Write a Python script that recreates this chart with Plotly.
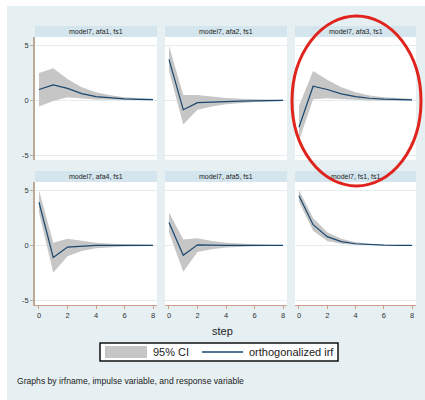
import plotly.graph_objects as go

W, H = 425, 400

steps = [0, 1, 2, 3, 4, 5, 6, 7, 8]
panel_titles = ["model7, afa1, fs1", "model7, afa2, fs1", "model7, afa3, fs1",
                "model7, afa4, fs1", "model7, afa5, fs1", "model7, fs1, fs1"]

irf_afa1 = [1.0, 1.42, 1.1, 0.62, 0.35, 0.22, 0.14, 0.1, 0.08]
hi_afa1 = [2.5, 2.95, 1.95, 1.2, 0.75, 0.48, 0.3, 0.2, 0.15]
lo_afa1 = [-0.55, -0.05, 0.28, 0.15, 0.08, 0.05, 0.03, 0.02, 0.02]

irf_afa2 = [3.75, -0.85, -0.2, -0.14, -0.1, -0.06, -0.04, -0.02, 0.0]
hi_afa2 = [5.0, 0.5, 0.5, 0.35, 0.22, 0.15, 0.1, 0.07, 0.05]
lo_afa2 = [2.7, -2.2, -0.85, -0.55, -0.35, -0.22, -0.14, -0.09, -0.06]

irf_afa3 = [-2.45, 1.3, 1.0, 0.6, 0.35, 0.2, 0.12, 0.08, 0.05]
hi_afa3 = [-0.5, 2.7, 1.9, 1.2, 0.75, 0.45, 0.3, 0.2, 0.15]
lo_afa3 = [-3.7, 0.1, 0.2, 0.1, 0.05, 0.0, 0.0, -0.02, -0.02]

irf_afa4 = [3.95, -1.1, -0.15, -0.05, 0.0, 0.0, 0.0, 0.0, 0.0]
hi_afa4 = [5.05, 0.25, 0.6, 0.4, 0.25, 0.15, 0.1, 0.07, 0.05]
lo_afa4 = [3.0, -2.5, -1.0, -0.5, -0.25, -0.15, -0.1, -0.07, -0.05]

irf_afa5 = [2.1, -0.9, 0.05, 0.0, 0.0, 0.0, 0.0, 0.0, 0.0]
hi_afa5 = [3.0, 0.55, 0.65, 0.4, 0.25, 0.15, 0.1, 0.06, 0.04]
lo_afa5 = [1.2, -2.4, -0.6, -0.35, -0.2, -0.12, -0.08, -0.05, -0.03]

irf_fs1 = [4.55, 1.9, 0.8, 0.35, 0.15, 0.07, 0.03, 0.01, 0.0]
hi_fs1 = [5.05, 2.5, 1.2, 0.6, 0.3, 0.15, 0.07, 0.03, 0.02]
lo_fs1 = [4.0, 1.35, 0.4, 0.15, 0.05, 0.02, 0.0, 0.0, -0.01]

x_ticks = [0, 2, 4, 6, 8]
y_ticks = [-5, 0, 5]

panels = [(irf_afa1, lo_afa1, hi_afa1), (irf_afa2, lo_afa2, hi_afa2),
          (irf_afa3, lo_afa3, hi_afa3), (irf_afa4, lo_afa4, hi_afa4),
          (irf_afa5, lo_afa5, hi_afa5), (irf_fs1, lo_fs1, hi_fs1)]

BG = "#e6f0f3"
STRIP = "#d4e5ee"
CI = "#c6c6c6"
LINE = "#1a476f"
YAX = "#bda997"
XAX = "#cf9d8c"
FONT = "Liberation Sans"

col_px = [(35, 157), (165, 287), (295, 416)]
row_px = [(37, 160), (182, 305)]
strip_h = 11

def px_x(v):
    return v / W

def px_y(v):
    return 1 - v / H

fig = go.Figure()
layout = {}
shapes = []
annotations = []

for i, (irf, lo, hi) in enumerate(panels):
    r, c = divmod(i, 3)
    n = i + 1
    xa = "x" if n == 1 else f"x{n}"
    ya = "y" if n == 1 else f"y{n}"
    fig.add_trace(go.Scatter(x=steps, y=hi, xaxis=xa, yaxis=ya, mode="lines",
                             line=dict(width=0, color=CI), showlegend=False, hoverinfo="skip"))
    fig.add_trace(go.Scatter(x=steps, y=lo, xaxis=xa, yaxis=ya, mode="lines",
                             line=dict(width=0, color=CI), fill="tonexty", fillcolor=CI,
                             showlegend=False, hoverinfo="skip"))
    fig.add_trace(go.Scatter(x=steps, y=irf, xaxis=xa, yaxis=ya, mode="lines",
                             line=dict(width=1.2, color=LINE), showlegend=False))
    x0, x1 = col_px[c]
    y0, y1 = row_px[r]
    bottom = (r == 1)
    left = (c == 0)
    layout["xaxis" if n == 1 else f"xaxis{n}"] = dict(
        domain=[px_x(x0), px_x(x1)], range=[-0.28, 8.28], anchor=ya,
        tickvals=x_ticks, showticklabels=bottom, ticks="outside" if bottom else "",
        ticklen=3, tickcolor=XAX, showline=bottom, linecolor=XAX, linewidth=1,
        showgrid=False, zeroline=False, fixedrange=True,
        tickfont=dict(family=FONT, size=7.5, color="#333333"))
    layout["yaxis" if n == 1 else f"yaxis{n}"] = dict(
        domain=[px_y(y1), px_y(y0)], range=[-5.45, 5.8], anchor=xa,
        tickvals=y_ticks, ticktext=["-5", "0", "5"], showticklabels=left,
        ticks="outside" if left else "", ticklen=3, tickcolor=YAX,
        showline=left, linecolor=YAX, linewidth=1.5,
        showgrid=True, gridcolor="#e4eef2", gridwidth=1, zeroline=False, fixedrange=True,
        tickfont=dict(family=FONT, size=7.5, color="#333333"))
    shapes.append(dict(type="rect", xref="paper", yref="paper",
                       x0=px_x(x0), x1=px_x(x1), y0=px_y(y0), y1=px_y(y0 - strip_h),
                       fillcolor=STRIP, line=dict(width=0), layer="below"))
    annotations.append(dict(xref="paper", yref="paper", x=px_x((x0 + x1) / 2),
                            y=px_y(y0 - strip_h / 2), text=panel_titles[i], showarrow=False,
                            xanchor="center", yanchor="middle",
                            font=dict(family=FONT, size=7, color="#222222")))

# white outer margin (top & left)
shapes.append(dict(type="rect", xref="paper", yref="paper", x0=0, x1=px_x(7), y0=0, y1=1,
                   fillcolor="white", line=dict(width=0), layer="below"))
shapes.append(dict(type="rect", xref="paper", yref="paper", x0=0, x1=1, y0=px_y(6), y1=1,
                   fillcolor="white", line=dict(width=0), layer="below"))

# legend box
shapes.append(dict(type="rect", xref="paper", yref="paper", x0=px_x(100), x1=px_x(338),
                   y0=px_y(361), y1=px_y(343), fillcolor="white",
                   line=dict(color="#111111", width=1.5)))
shapes.append(dict(type="rect", xref="paper", yref="paper", x0=px_x(105), x1=px_x(147),
                   y0=px_y(358), y1=px_y(346), fillcolor=CI, line=dict(width=0)))
shapes.append(dict(type="line", xref="paper", yref="paper", x0=px_x(202), x1=px_x(243),
                   y0=px_y(352), y1=px_y(352), line=dict(color=LINE, width=1.5)))
annotations.append(dict(xref="paper", yref="paper", x=px_x(151), y=px_y(352), text="95% CI",
                        showarrow=False, xanchor="left", yanchor="middle",
                        font=dict(family=FONT, size=11, color="#222222")))
annotations.append(dict(xref="paper", yref="paper", x=px_x(247), y=px_y(352),
                        text="orthogonalized irf", showarrow=False, xanchor="left",
                        yanchor="middle", font=dict(family=FONT, size=11, color="#222222")))
annotations.append(dict(xref="paper", yref="paper", x=px_x(223), y=px_y(331), text="step",
                        showarrow=False, xanchor="center", yanchor="middle",
                        font=dict(family=FONT, size=11, color="#222222")))
annotations.append(dict(xref="paper", yref="paper", x=px_x(15), y=px_y(381),
                        text="Graphs by irfname, impulse variable, and response variable",
                        showarrow=False, xanchor="left", yanchor="middle",
                        font=dict(family=FONT, size=8.6, color="#222222")))

# red ellipse highlight
shapes.append(dict(type="circle", xref="paper", yref="paper", x0=px_x(292), x1=px_x(421),
                   y0=px_y(186), y1=px_y(16), line=dict(color="#e0231c", width=3)))

fig.update_layout(width=W, height=H, margin=dict(l=0, r=0, t=0, b=0),
                  paper_bgcolor=BG, plot_bgcolor="white", showlegend=False,
                  shapes=shapes, annotations=annotations, **layout)

fig.write_html("out.html", config={"displayModeBar": False},
               post_script="document.body.style.margin='0';document.body.style.overflow='hidden';")
